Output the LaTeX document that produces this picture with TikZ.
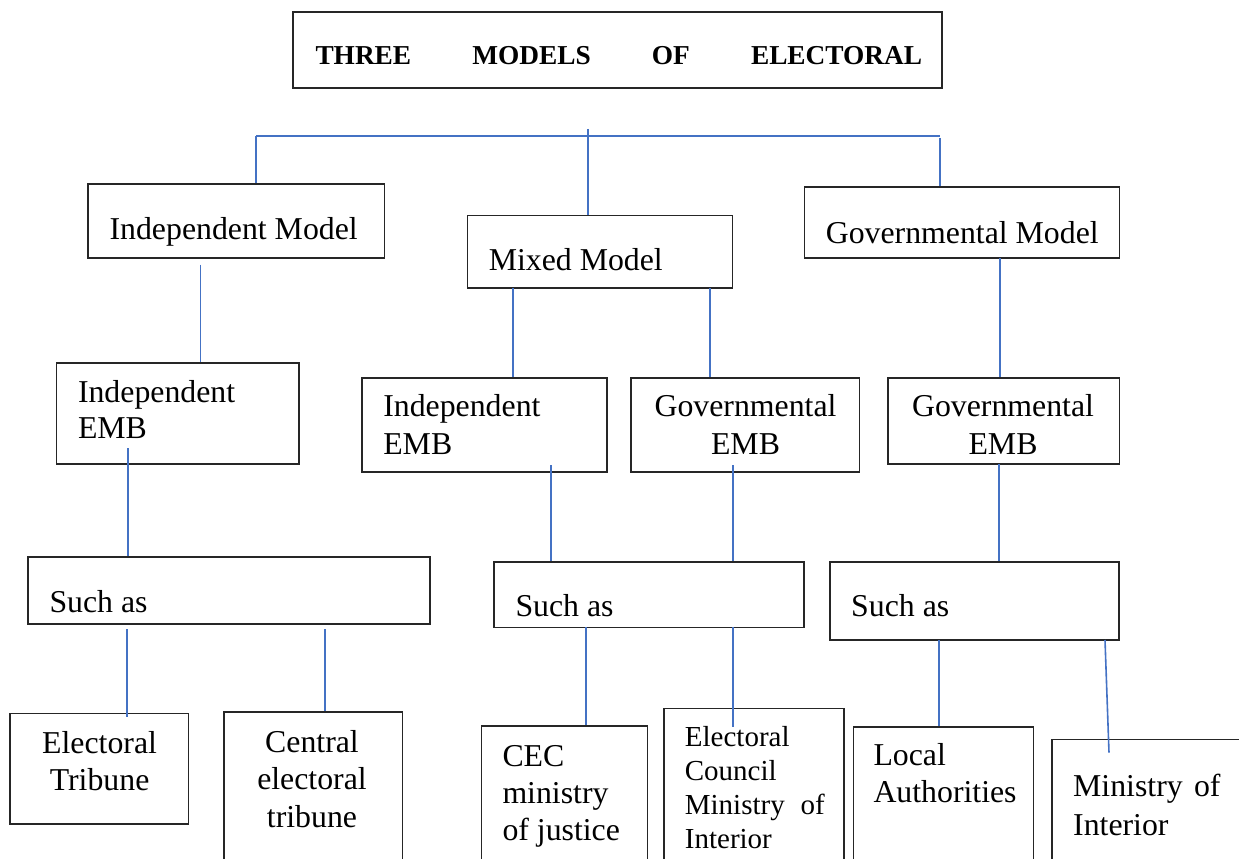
\documentclass[tikz,border=0pt]{standalone}
\usepackage{fontspec}
\setmainfont{Liberation Serif}
\usetikzlibrary{fit}
\definecolor{linkblue}{RGB}{68,114,196}

\tikzset{every picture/.style={line width=0.75pt}}
\tikzset{
  box/.style={draw=black!85, line width=1.2pt, inner sep=0pt},
  conn/.style={draw=linkblue, line width=1.2pt},
  bus/.style={draw=linkblue, line width=1.6pt},
  txt/.style={anchor=base west, inner sep=0pt, align=left, font=\fontsize{23.85}{27.3}\selectfont},
  ctxt/.style={anchor=base, inner sep=0pt, align=center, font=\fontsize{23.85}{28}\selectfont},
}

\begin{document}
\begin{tikzpicture}[x=0.75pt,y=0.75pt,yscale=-1,xscale=1]
\useasboundingbox (0,0) rectangle (1239,859);
\clip (0,0) rectangle (1239,859);

%Rectangles
\node [box, fit={(293,12.3) (942,88.3)}] (title) {};
\node [box, fit={(88.2,184) (384.3,258.3)}] (indmodel) {};
\node [box, fit={(467.5,215.7) (732.5,288.3)}] (mixmodel) {};
\node [box, fit={(804.4,187.3) (1119.5,258.3)}] (govmodel) {};
\node [box, fit={(56.5,362.7) (299,464)}] (indembA) {};
\node [box, fit={(362.2,377.7) (607,472)}] (indembB) {};
\node [box, fit={(630.8,378) (859.5,472)}] (govembB) {};
\node [box, fit={(888,378) (1119.3,464)}] (govembC) {};
\node [box, fit={(28,556.7) (430,623.7)}] (suchA) {};
\node [box, fit={(494,561.7) (804,627.3)}] (suchB) {};
\node [box, fit={(829.7,561.7) (1119,640)}] (suchC) {};
\node [box, fit={(10,713.3) (188.5,824)}] (tribune) {};
\node [box, fit={(223.7,712) (402.4,870)}] (central) {};
\node [box, fit={(481.4,726) (647.6,870)}] (cec) {};
\node [box, fit={(663.8,708.3) (844.2,870)}] (council) {};
\node [box, fit={(853.3,726.7) (1033.3,870)}] (local) {};
\node [box, fit={(1051.7,739.3) (1260,870)}] (ministry) {};

%Straight Lines
\coordinate (busL) at (256,135.7);
\coordinate (busR) at (940.4,135.7);
\coordinate (busM) at (588,129);
\coordinate (busG) at (940,138);
\draw [bus] (busL) -- (busR);
\draw [conn] (busL) -- (busL |- indmodel.north);
\draw [conn] (busM) -- (busM |- mixmodel.north);
\draw [conn] (busG) -- (busG |- govmodel.north);

\coordinate (dA) at (200.5,264.7);
\coordinate (dB) at (513,288.3);
\coordinate (dC) at (710,288.3);
\coordinate (dD) at (1000,258.3);
\draw [conn] (dA) -- (dA |- indembA.north);
\draw [conn] (dB) -- (dB |- indembB.north);
\draw [conn] (dC) -- (dC |- govembB.north);
\draw [conn] (dD) -- (dD |- govembC.north);

\coordinate (eA) at (128,448.3);
\coordinate (eB) at (551,465);
\coordinate (eC) at (733,465);
\coordinate (eD) at (999,464);
\draw [conn] (eA) -- (eA |- suchA.north);
\draw [conn] (eB) -- (eB |- suchB.north);
\draw [conn] (eC) -- (eC |- suchB.north);
\draw [conn] (eD) -- (eD |- suchC.north);

\coordinate (fA) at (127,629);
\coordinate (fB) at (325,629);
\coordinate (fC) at (586,627.3);
\coordinate (fD) at (733,627.3);
\coordinate (fE) at (939,640);
\coordinate (fF) at (1105,640);
\coordinate (fFend) at (1109,752.7);
\draw [conn] (fA) -- (127,717);
\draw [conn] (fB) -- (fB |- central.north);
\draw [conn] (fC) -- (fC |- cec.north);
\draw [conn] (fD) -- (733,726.7);
\draw [conn] (fE) -- (fE |- local.north);
\draw [conn] (fF) -- (fFend);

% Text Node
\node [anchor=base west, inner sep=0pt, font=\fontsize{20.5}{24}\selectfont\bfseries] (ttitle) at (315,64.7)
  {\makebox[455pt][s]{THREE\hfill MODELS\hfill OF\hfill ELECTORAL}};
% Text Node
\node [txt] (tindmodel) at (109.1,240) {Independent Model};
\node [txt] (tmixmodel) at (488.3,270.7) {Mixed Model};
\node [txt] (tgovmodel) at (825.3,243.3) {Governmental Model};
% Text Node
\node [txt] (tindembA) at (77.5,438.7) {Independent\\EMB};
\node [txt, font=\fontsize{23.85}{28}\selectfont] (tindembB) at (382.8,454) {Independent\\EMB};
\node [ctxt] (tgovembB) at (745.5,454) {Governmental\\EMB};
\node [ctxt] (tgovembC) at (1003,454) {Governmental\\EMB};
% Text Node
\node [txt] (tsuchA) at (49,612.7) {Such as};
\node [txt] (tsuchB) at (515,616.7) {Such as};
\node [txt] (tsuchC) at (850.7,616.7) {Such as};
% Text Node
\node [ctxt] (ttribune) at (99.6,790.5) {Electoral\\Tribune};
\node [ctxt] (tcentral) at (312,827) {Central\\electoral\\tribune};
\node [txt, font=\fontsize{23.85}{27.5}\selectfont] (tcec) at (502,840) {CEC\\ministry\\of justice};
\node [txt, font=\fontsize{21.75}{25.3}\selectfont] (tcouncil) at (684.4,848)
  {Electoral\\Council\\\makebox[105pt][s]{Ministry\hfill of}\\Interior};
\node [txt, font=\fontsize{23.85}{27.2}\selectfont] (tlocal) at (873,802) {Local\\Authorities};
\node [txt, font=\fontsize{23.85}{29.5}\selectfont] (tministry) at (1072.7,835.5)
  {\makebox[110.5pt][s]{Ministry\hfill of}\\Interior};

\end{tikzpicture}
\end{document}
